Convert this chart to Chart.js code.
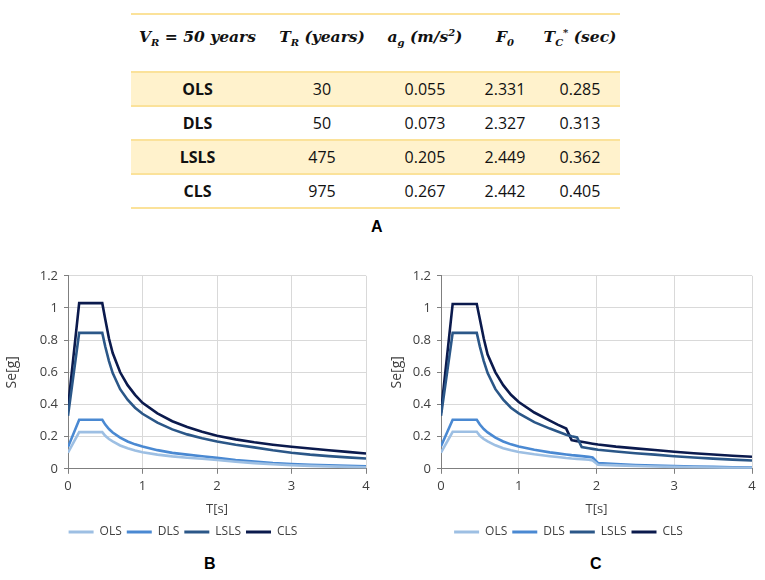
<!DOCTYPE html>
<html lang="en">
<head>
    <meta charset="UTF-8">
    <title>Response spectra</title>
    <script src="https://cdn.jsdelivr.net/npm/chart.js"></script>
    <style>
        body {
            margin: 0;
            width: 765px;
            height: 580px;
            background: #fff;
            position: relative;
            overflow: hidden;
            font-family: "Open Sans", sans-serif;
        }
        table.params {
            position: absolute;
            left: 131px;
            top: 13px;
            width: 489px;
            border-collapse: collapse;
            table-layout: fixed;
            font-size: 16px;
            color: #111;
        }
        table.params td, table.params th {
            text-align: center;
            padding: 0;
            border-top: 2px solid #FBE29A;
            border-bottom: 2px solid #FBE29A;
        }
        table.params th {
            height: 44px;
            vertical-align: top;
            padding-top: 12px;
            font-family: "DejaVu Serif", serif;
            font-style: italic;
            font-weight: bold;
            font-size: 15.5px;
            white-space: nowrap;
        }
        table.params th sub, table.params th sup { font-size: 10px; }
        table.params td { height: 32px; }
        table.params td.lbl { font-weight: bold; }
        table.params tr.shade td { background: #FFF2CC; }
        .panel {
            position: absolute;
            font-family: "Liberation Sans", Arial, sans-serif;
            font-weight: bold;
            font-size: 16px;
        }
        .chartbox {
            position: absolute;
            top: 262px;
            height: 286px;
        }
    </style>
</head>
<body>

    <table class="params">
        <colgroup>
            <col style="width:133px"><col style="width:116px"><col style="width:90px"><col style="width:70px"><col style="width:80px">
        </colgroup>
        <tr>
            <th>V<sub>R</sub> = 50 years</th>
            <th>T<sub>R</sub> (years)</th>
            <th>a<sub>g</sub> (m/s<sup>2</sup>)</th>
            <th>F<sub>0</sub></th>
            <th>T<sub>C</sub><sup>*</sup> (sec)</th>
        </tr>
        <tbody id="paramRows"></tbody>
    </table>
    <div class="panel" style="left:371px; top:218px;">A</div>

    <div class="chartbox" style="left:0; width:385px;"><canvas id="chartB"></canvas></div>
    <div class="chartbox" style="left:385px; width:380px;"><canvas id="chartC"></canvas></div>
    <div class="panel" style="left:204px; top:555px;">B</div>
    <div class="panel" style="left:590px; top:555px;">C</div>

    <script>
        // table A
        const limitStates = ['OLS', 'DLS', 'LSLS', 'CLS'];
        const returnPeriods = ['30', '50', '475', '975'];
        const agValues = ['0.055', '0.073', '0.205', '0.267'];
        const f0Values = ['2.331', '2.327', '2.449', '2.442'];
        const tcValues = ['0.285', '0.313', '0.362', '0.405'];

        // spectra B
        const periodsB = [0, 0.15, 0.46, 0.5, 0.55, 0.6, 0.7, 0.8, 0.9, 1.0, 1.2, 1.4, 1.6, 1.8, 2.0, 2.25, 2.5, 2.75, 3.0, 3.25, 3.5, 3.75, 4.0];
        const olsB  = [0.10, 0.228, 0.228, 0.205, 0.185, 0.17, 0.145, 0.128, 0.114, 0.103, 0.088, 0.077, 0.069, 0.062, 0.055, 0.044, 0.035, 0.028, 0.022, 0.018, 0.015, 0.012, 0.01];
        const dlsB  = [0.135, 0.305, 0.305, 0.275, 0.247, 0.226, 0.194, 0.17, 0.152, 0.138, 0.116, 0.099, 0.088, 0.078, 0.068, 0.055, 0.045, 0.036, 0.03, 0.025, 0.021, 0.018, 0.016];
        const lslsB = [0.33, 0.845, 0.845, 0.76, 0.67, 0.595, 0.495, 0.43, 0.38, 0.342, 0.287, 0.245, 0.214, 0.19, 0.17, 0.15, 0.133, 0.115, 0.1, 0.088, 0.079, 0.071, 0.064];
        const clsB  = [0.38, 1.03, 1.03, 0.93, 0.81, 0.72, 0.6, 0.52, 0.46, 0.41, 0.345, 0.296, 0.26, 0.23, 0.205, 0.183, 0.165, 0.15, 0.137, 0.126, 0.115, 0.105, 0.095];

        // spectra C
        const periodsC = [0, 0.15, 0.46, 0.5, 0.55, 0.6, 0.7, 0.8, 0.9, 1.0, 1.2, 1.4, 1.5, 1.61, 1.68, 1.75, 1.81, 1.9, 1.95, 2.02, 2.25, 2.5, 2.75, 3.0, 3.25, 3.5, 3.75, 4.0];
        const olsC  = [0.10, 0.23, 0.23, 0.205, 0.185, 0.17, 0.146, 0.128, 0.115, 0.105, 0.09, 0.078, 0.073, 0.067, 0.064, 0.062, 0.06, 0.056, 0.052, 0.025, 0.021, 0.017, 0.014, 0.012, 0.01, 0.008, 0.006, 0.005];
        const dlsC  = [0.14, 0.305, 0.305, 0.275, 0.247, 0.226, 0.194, 0.17, 0.152, 0.138, 0.118, 0.102, 0.096, 0.089, 0.085, 0.082, 0.079, 0.074, 0.07, 0.035, 0.029, 0.024, 0.02, 0.017, 0.014, 0.012, 0.01, 0.008];
        const lslsC = [0.33, 0.845, 0.845, 0.76, 0.67, 0.595, 0.495, 0.43, 0.38, 0.345, 0.29, 0.25, 0.232, 0.212, 0.203, 0.195, 0.135, 0.128, 0.124, 0.118, 0.108, 0.097, 0.088, 0.078, 0.07, 0.063, 0.057, 0.052];
        const clsC  = [0.35, 1.025, 1.025, 0.93, 0.81, 0.71, 0.6, 0.52, 0.46, 0.415, 0.35, 0.3, 0.275, 0.25, 0.178, 0.172, 0.168, 0.16, 0.156, 0.151, 0.138, 0.127, 0.117, 0.106, 0.097, 0.089, 0.081, 0.075];

        const seriesColors = ['#9DBFE3', '#4A89D2', '#2B5788', '#0B1A4D'];

        const tbody = document.getElementById('paramRows');
        limitStates.forEach((ls, i) => {
            const tr = document.createElement('tr');
            if (i % 2 === 0) tr.className = 'shade';
            tr.innerHTML = `<td class="lbl">${ls}</td><td>${returnPeriods[i]}</td><td>${agValues[i]}</td><td>${f0Values[i]}</td><td>${tcValues[i]}</td>`;
            tbody.appendChild(tr);
        });

        function toPoints(xs, ys) {
            return xs.map((x, i) => ({ x: x, y: ys[i] }));
        }

        function renderSpectra(canvasId, periods, seriesList, yAxisWidth, rightPad) {
            const gridColor = '#D9D9D9';
            const axisColor = '#7F7F7F';
            const textColor = '#404040';
            const font = { family: 'Open Sans', size: 13 };

            return new Chart(document.getElementById(canvasId), {
                type: 'line',
                data: {
                    datasets: seriesList.map((ys, i) => ({
                        label: limitStates[i],
                        data: toPoints(periods, ys),
                        borderColor: seriesColors[i],
                        backgroundColor: seriesColors[i],
                        borderWidth: 2.6,
                        pointRadius: 0,
                        tension: 0,
                        fill: false
                    }))
                },
                options: {
                    responsive: true,
                    maintainAspectRatio: false,
                    animation: false,
                    layout: { padding: { top: 12, right: rightPad, left: 0, bottom: 0 } },
                    plugins: {
                        tooltip: { enabled: false },
                        legend: {
                            position: 'bottom',
                            labels: {
                                boxWidth: 25,
                                boxHeight: 3,
                                padding: 5,
                                color: textColor,
                                font: { family: 'Open Sans', size: 12 },
                                generateLabels: chart => Chart.defaults.plugins.legend.labels
                                    .generateLabels(chart).map(l => ({ ...l, lineWidth: 0 }))
                            }
                        }
                    },
                    scales: {
                        x: {
                            type: 'linear',
                            min: 0,
                            max: 4,
                            ticks: { stepSize: 1, color: textColor, font: font, padding: 5 },
                            grid: { color: gridColor, tickColor: axisColor, tickLength: 5 },
                            border: { color: axisColor },
                            title: { display: true, text: 'T[s]', color: textColor, font: font, padding: { top: 2, bottom: 4 } }
                        },
                        y: {
                            min: 0,
                            max: 1.2,
                            ticks: {
                                stepSize: 0.2, color: textColor, font: font, padding: 6,
                                callback: v => String(Number(v.toFixed(1)))
                            },
                            grid: { color: gridColor, tickColor: axisColor, tickLength: 4 },
                            border: { color: axisColor },
                            title: { display: true, text: 'Se[g]', color: textColor, font: { family: 'Open Sans', size: 14 }, padding: 4 },
                            afterFit: scale => { scale.width = yAxisWidth; }
                        }
                    }
                }
            });
        }

        renderSpectra('chartB', periodsB, [olsB, dlsB, lslsB, clsB], 68, 19);
        renderSpectra('chartC', periodsC, [olsC, dlsC, lslsC, clsC], 56, 13);
    </script>
</body>
</html>
